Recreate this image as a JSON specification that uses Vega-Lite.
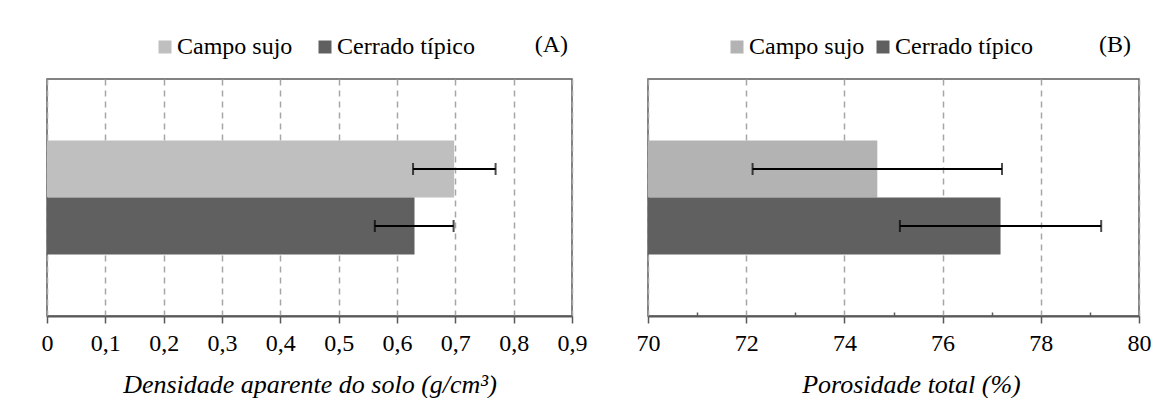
{
  "$schema": "https://vega.github.io/schema/vega-lite/v6.json",
  "background": "white",
  "padding": {"left": 40, "top": 32, "right": 0, "bottom": 0},
  "bounds": "flush",
  "spacing": 76,
  "datasets": {
    "dens": [
      {"grupo": "g", "serie": "Campo sujo", "media": 0.698, "inf": 0.6275, "sup": 0.769},
      {"grupo": "g", "serie": "Cerrado típico", "media": 0.630, "inf": 0.562, "sup": 0.697}
    ],
    "poro": [
      {"grupo": "g", "serie": "Campo sujo", "media": 74.67, "inf": 72.13, "sup": 77.21},
      {"grupo": "g", "serie": "Cerrado típico", "media": 77.18, "inf": 75.13, "sup": 79.23}
    ]
  },
  "config": {
    "font": "Liberation Serif",
    "view": {"stroke": "#595959", "strokeWidth": 1.5},
    "title": {"font": "Liberation Serif", "fontSize": 24, "fontWeight": "normal", "color": "black"},
    "style": {
      "guide-label": {"font": "Liberation Serif", "fontSize": 24, "fill": "black"},
      "guide-title": {"font": "Liberation Serif", "fontSize": 26, "fill": "black", "fontStyle": "italic", "fontWeight": "normal"}
    },
    "axis": {"labelFont": "Liberation Serif", "labelFontSize": 24, "labelColor": "black", "titleFont": "Liberation Serif", "titleFontSize": 26, "titleFontStyle": "italic", "titleFontWeight": "normal", "titleColor": "black"},
    "legend": {"labelFont": "Liberation Serif", "labelFontSize": 24, "labelColor": "black"}
  },
  "resolve": {"scale": {"x": "independent", "y": "independent", "yOffset": "independent", "color": "independent"}, "legend": {"color": "independent"}},
  "hconcat": [
    {
      "width": 525,
      "height": 237,
      "data": {"name": "dens"},
      "title": {"text": "(A)", "anchor": "end", "frame": "group", "offset": -22, "dx": -4},
      "encoding": {
        "y": {"field": "grupo", "type": "nominal", "axis": null, "scale": {"paddingInner": 0, "paddingOuter": 0.54}},
        "yOffset": {"field": "serie", "type": "nominal", "sort": ["Campo sujo", "Cerrado típico"], "scale": {"paddingInner": 0, "paddingOuter": 0}}
      },
      "layer": [
        {
          "mark": {"type": "bar", "clip": true},
          "encoding": {
            "x": {
              "field": "media", "type": "quantitative", "title": "Densidade aparente do solo (g/cm³)",
              "scale": {"domain": [0, 0.9], "nice": false, "zero": false},
              "axis": {
                "titlePadding": 16,
                "values": [0, 0.05, 0.1, 0.15, 0.2, 0.25, 0.3, 0.35, 0.4, 0.45, 0.5, 0.55, 0.6, 0.65, 0.7, 0.75, 0.8, 0.85, 0.9],
                "labelExpr": "abs(datum.value*10 - round(datum.value*10)) < 0.001 ? (datum.value == 0 ? '0' : replace(format(datum.value, '.1f'), '.', ',')) : ''",
                "labelPadding": 8,
                "labelOverlap": false, "labelFlush": false, "labelBound": false,
                "domainColor": "#595959", "domainWidth": 2,
                "tickColor": "#595959", "tickWidth": 1.5,
                "tickSize": {"condition": {"test": "abs(datum.value*10 - round(datum.value*10)) < 0.001", "value": 7}, "value": -4},
                "grid": true, "gridColor": "#a6a6a6", "gridDash": [6, 5], "gridWidth": 1.5,
                "gridOpacity": {"condition": {"test": "abs(datum.value*10 - round(datum.value*10)) < 0.001", "value": 1}, "value": 0}
              }
            },
            "color": {
              "field": "serie", "type": "nominal",
              "scale": {"domain": ["Campo sujo", "Cerrado típico"], "range": ["#bfbfbf", "#606060"]},
              "legend": {"orient": "none", "legendX": 106, "legendY": -44, "direction": "horizontal", "title": null, "symbolType": "square", "symbolSize": 169, "symbolStrokeWidth": 0, "symbolOpacity": 1, "columnPadding": 20, "labelOffset": 0}
            }
          }
        },
        {
          "mark": {"type": "rule", "color": "black", "strokeWidth": 2},
          "encoding": {
            "x": {"field": "inf", "type": "quantitative", "title": "Densidade aparente do solo (g/cm³)"},
            "x2": {"field": "sup"}
          }
        },
        {
          "mark": {"type": "tick", "color": "black", "thickness": 2, "size": 12, "orient": "vertical"},
          "encoding": {
            "x": {"field": "inf", "type": "quantitative", "title": "Densidade aparente do solo (g/cm³)"}
          }
        },
        {
          "mark": {"type": "tick", "color": "black", "thickness": 2, "size": 12, "orient": "vertical"},
          "encoding": {
            "x": {"field": "sup", "type": "quantitative", "title": "Densidade aparente do solo (g/cm³)"}
          }
        }
      ]
    },
    {
      "width": 491,
      "height": 237,
      "data": {"name": "poro"},
      "title": {"text": "(B)", "anchor": "end", "frame": "group", "offset": -22, "dx": -8},
      "encoding": {
        "y": {"field": "grupo", "type": "nominal", "axis": null, "scale": {"paddingInner": 0, "paddingOuter": 0.54}},
        "yOffset": {"field": "serie", "type": "nominal", "sort": ["Campo sujo", "Cerrado típico"], "scale": {"paddingInner": 0, "paddingOuter": 0}}
      },
      "layer": [
        {
          "mark": {"type": "bar", "clip": true},
          "encoding": {
            "x": {
              "field": "media", "type": "quantitative", "title": "Porosidade total (%)",
              "scale": {"domain": [70, 80], "nice": false, "zero": false},
              "axis": {
                "titlePadding": 16, "titleX": 263,
                "values": [70, 70.5, 71, 71.5, 72, 72.5, 73, 73.5, 74, 74.5, 75, 75.5, 76, 76.5, 77, 77.5, 78, 78.5, 79, 79.5, 80],
                "labelExpr": "datum.value % 2 == 0 ? format(datum.value, 'd') : ''",
                "labelPadding": 8,
                "labelOverlap": false, "labelFlush": false, "labelBound": false,
                "domainColor": "#595959", "domainWidth": 2,
                "tickColor": "#595959", "tickWidth": 1.5,
                "tickSize": {"condition": {"test": "datum.value % 2 == 0", "value": 7}, "value": -4},
                "grid": true, "gridColor": "#a6a6a6", "gridDash": [6, 5], "gridWidth": 1.5,
                "gridOpacity": {"condition": {"test": "datum.value % 2 == 0", "value": 1}, "value": 0}
              }
            },
            "color": {
              "field": "serie", "type": "nominal",
              "scale": {"domain": ["Campo sujo", "Cerrado típico"], "range": ["#b3b3b3", "#606060"]},
              "legend": {"orient": "none", "legendX": 77, "legendY": -44, "direction": "horizontal", "title": null, "symbolType": "square", "symbolSize": 169, "symbolStrokeWidth": 0, "symbolOpacity": 1, "columnPadding": 6, "labelOffset": 0}
            }
          }
        },
        {
          "mark": {"type": "rule", "color": "black", "strokeWidth": 2},
          "encoding": {
            "x": {"field": "inf", "type": "quantitative", "title": "Porosidade total (%)"},
            "x2": {"field": "sup"}
          }
        },
        {
          "mark": {"type": "tick", "color": "black", "thickness": 2, "size": 12, "orient": "vertical"},
          "encoding": {
            "x": {"field": "inf", "type": "quantitative", "title": "Porosidade total (%)"}
          }
        },
        {
          "mark": {"type": "tick", "color": "black", "thickness": 2, "size": 12, "orient": "vertical"},
          "encoding": {
            "x": {"field": "sup", "type": "quantitative", "title": "Porosidade total (%)"}
          }
        }
      ]
    }
  ]
}
